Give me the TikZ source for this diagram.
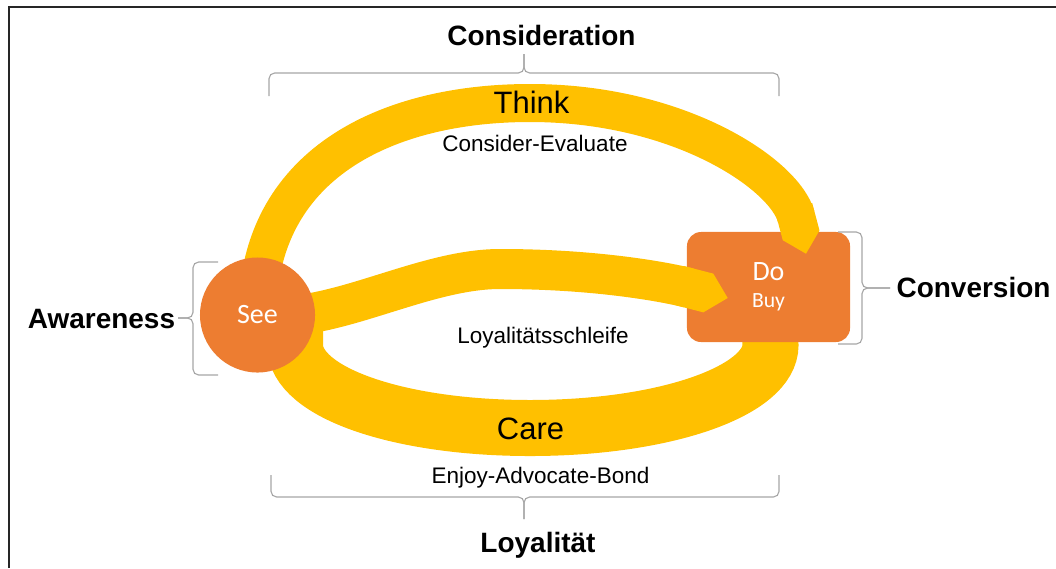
\documentclass[tikz,border=0pt]{standalone}
\usepackage{fontspec}
\setmainfont{Liberation Sans}
\newfontfamily\calibri{Carlito}
\usepackage{tikz}
\usetikzlibrary{arrows.meta, calc}
\definecolor{myorange}{HTML}{ED7D31}
\definecolor{mygold}{HTML}{FFC000}
\definecolor{mygray}{HTML}{A6A6A6}
\pgfdeclarelayer{back}
\pgfdeclarelayer{front}
\pgfsetlayers{back,main,front}

\begin{document}
\begin{tikzpicture}[x=0.025cm, y=-0.025cm,
		band/.style={draw=mygold},
		bracket/.style={draw=mygray, line width=0.8pt, rounded corners=4pt},
		stage/.style={inner sep=0pt, anchor=base, font=\fontsize{19.9}{24}\selectfont\bfseries},
		phase/.style={inner sep=0pt, anchor=base, font=\fontsize{22}{26}\selectfont},
		note/.style={inner sep=0pt, anchor=base, font=\fontsize{16}{19}\selectfont}]
			\useasboundingbox (0,0) rectangle (1056,568);
			\draw [line width=1.4pt, black!85] (9,568) -- (9,7) -- (1056,7);
			% the two stages of the loop
			\begin{pgfonlayer}{front}
				\node [circle, fill=myorange, text=white, minimum size=2.875cm, inner sep=0pt, font=\calibri\fontsize{19.9}{24}\selectfont] (see) at (257.5,315) {See};
			\end{pgfonlayer}
			\node [rectangle, rounded corners=10pt, fill=myorange, text=white, minimum width=4.075cm, minimum height=2.75cm, inner sep=0pt, align=center, font=\calibri\fontsize{15.4}{19.2}\selectfont] (do) at (768.5,287) {{\fontsize{19.9}{19.2}\selectfont Do}\\Buy};
			% care band behind the box and the circle
			\begin{pgfonlayer}{back}
				\draw [band, line width=1.4cm] (do.center) -- ++(2,58) .. controls +(0,46) and +(135,0) .. (530,428) .. controls +(-130,0) and +(0,48) .. (295,345) -- ++(0,-25);
			\end{pgfonlayer}
			\draw [band, line width=0.95cm, -{Triangle Cap}] (see.center) .. controls +(0,-150) and +(-145,0) .. (530,103) .. controls +(150,0) and +(-21,-79) .. ($(do.north)+(37.5,22)$);
			\draw [band, line width=1cm, -{Triangle Cap}] (see.center) .. controls (330,326) and (420,269) .. (500,269) .. controls +(100,0) and +(-58,-15) .. ($(do.west)+(41,11)$);
			% brackets
			\draw [bracket] (269,96) -- (269,73) -- (524,73) -- (524,54);
			\draw [bracket] (779,96) -- (779,73) -- (524,73) -- (524,54);
			\draw [bracket] (271,475) -- (271,497) -- (524,497) -- (524,519);
			\draw [bracket] (779,475) -- (779,497) -- (524,497) -- (524,519);
			\draw [bracket] (218,262) -- (193,262) -- (193,318) -- (178,318);
			\draw [bracket] (218,375) -- (193,375) -- (193,318) -- (178,318);
			\draw [bracket] (838,232) -- (862,232) -- (862,288) -- (890,288);
			\draw [bracket] (838,344) -- (862,344) -- (862,288) -- (890,288);
			% labels
			\node [stage] (consideration) at (541.5,45) {Consideration};
			\node [stage] (awareness) at (101.5,328) {Awareness};
			\node [stage] (conversion) at (973.5,297) {Conversion};
			\node [stage] (loyalitaet) at (538,552) {Loyalität};
			\node [phase] (think) at (531.5,113) {Think};
			\node [phase] (care) at (530.5,439) {Care};
			\node [note] (evaluate) at (535,151) {Consider-Evaluate};
			\node [note] (schleife) at (543,343) {Loyalitätsschleife};
			\node [note] (advocate) at (540.5,483) {Enjoy-Advocate-Bond};
		\end{tikzpicture}
\end{document}
